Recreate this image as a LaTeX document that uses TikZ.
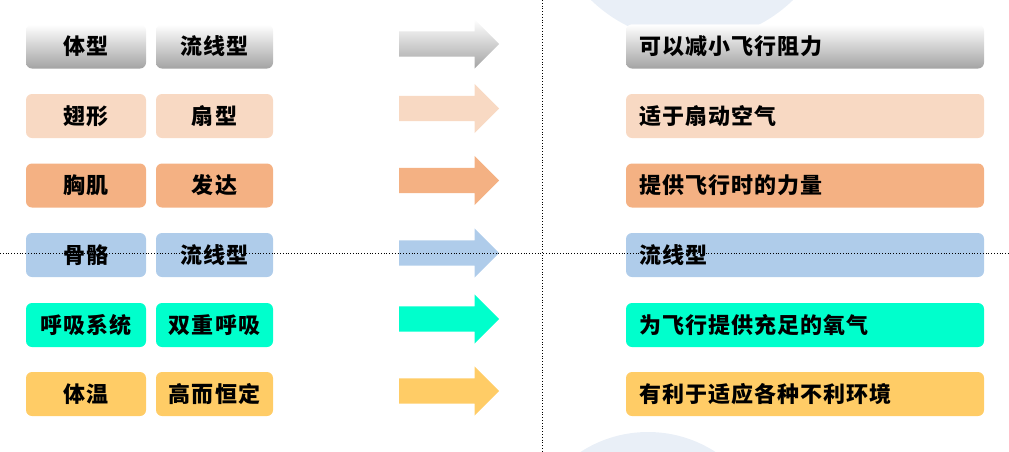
\documentclass[tikz,border=0pt]{standalone}
\usepackage{fontspec}
\setmainfont{Noto Sans CJK SC}[LetterSpace=5]
\usetikzlibrary{shapes.arrows}

\begin{document}
\begin{tikzpicture}[
  x=1pt, y=-1pt,
  font=\bfseries\fontsize{22}{26}\selectfont,
  tag/.style={fill=#1, rounded corners=6pt, minimum height=44pt, inner sep=0pt, text=black},
  glossy/.style={top color=white, middle color=white, bottom color=black!36},
  effect/.style={tag=#1, text width=332pt, inner xsep=13pt, align=left},
  thrust/.style={single arrow, fill=#1, draw=none, anchor=tail, inner xsep=0pt, inner ysep=12.5pt,
    minimum height=100pt, single arrow head extend=12pt},
  grid/.style={dotted, line width=0.8pt, draw=black}
]
\definecolor{BPeach}{HTML}{F8D9C3}
\definecolor{BOrange}{HTML}{F4B183}
\definecolor{BBlue}{HTML}{AFCCEA}
\definecolor{BAqua}{HTML}{00FFCC}
\definecolor{BYellow}{HTML}{FFCC66}
\definecolor{BBubble}{HTML}{E9EFF7}

\useasboundingbox (0,0) rectangle (1009,451);
\clip (0,0) rectangle (1009,451);

\fill[BBubble] (692,-104) circle (145pt);
\fill[BBubble] (648,556) circle (124pt);
\draw[grid] (542,0) -- (542,451);

\node[tag=white, glossy, minimum width=120pt] (ti) at (86,46.5) {体型};
\node[tag=white, glossy, minimum width=117pt] (tx) at (214.5,46.5) {流线型};
\node[tag=BPeach, minimum width=120pt] (ch) at (86,116) {翅形};
\node[tag=BPeach, minimum width=117pt] (sx) at (214.5,116) {扇型};
\node[tag=BOrange, minimum width=120pt] (xj) at (86,185.5) {胸肌};
\node[tag=BOrange, minimum width=117pt] (fd) at (214.5,185.5) {发达};
\node[tag=BBlue, minimum width=120pt] (gg) at (86,255) {骨骼};
\node[tag=BBlue, minimum width=117pt] (lx) at (214.5,255) {流线型};
\node[tag=BAqua, minimum width=120pt] (hx) at (86,325) {呼吸系统};
\node[tag=BAqua, minimum width=117pt] (sc) at (214.5,325) {双重呼吸};
\node[tag=BYellow, minimum width=120pt] (tw) at (86,394) {体温};
\node[tag=BYellow, minimum width=117pt] (gd) at (214.5,394) {高而恒定};

\node[thrust=white, glossy] (a1) at (399,44) {};
\node[thrust=BPeach] (a2) at (399,108.5) {};
\node[thrust=BOrange] (a3) at (399,180.5) {};
\node[thrust=BBlue] (a4) at (399,253) {};
\node[thrust=BAqua] (a5) at (399,319) {};
\node[thrust=BYellow] (a6) at (399,391) {};

\node[effect=white, glossy] (r1) at (805,46.5) {可以减小飞行阻力};
\node[effect=BPeach] (r2) at (805,116) {适于扇动空气};
\node[effect=BOrange] (r3) at (805,185.5) {提供飞行时的力量};
\node[effect=BBlue] (r4) at (805,255) {流线型};
\node[effect=BAqua] (r5) at (805,325) {为飞行提供充足的氧气};
\node[effect=BYellow] (r6) at (805,394) {有利于适应各种不利环境};

\draw[grid] (0,253) -- (1009,253);
\end{tikzpicture}
\end{document}
